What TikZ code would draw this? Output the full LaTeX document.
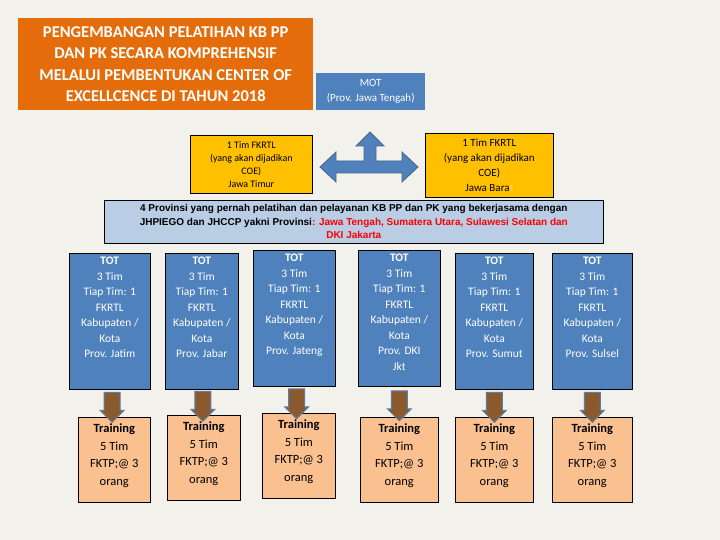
\documentclass[tikz,border=0pt]{standalone}
\usepackage{fontspec}
\setmainfont{Carlito}
\newfontfamily\arialfont{Liberation Sans}
\usetikzlibrary{shapes.arrows}
\definecolor{titleorange}{HTML}{E46C0A}
\definecolor{totblue}{HTML}{4F81BD}
\definecolor{coeyellow}{HTML}{FFC000}
\definecolor{infoblue}{HTML}{B9CDE5}
\definecolor{trainpeach}{HTML}{FAC090}
\definecolor{arrowbrown}{HTML}{8A5A2E}
\definecolor{arrowedge}{HTML}{5A7FA8}
\definecolor{bgpaper}{HTML}{F3F1EC}
\tikzset{
  box/.style={draw=black,line width=0.6pt,inner sep=2pt,align=center,anchor=north west},
  totbox/.style={box,fill=totblue,minimum width=#1,minimum height=136pt},
  trainbox/.style={box,fill=trainpeach,minimum width=#1,minimum height=85pt},
  toptext/.style={anchor=north,align=center,inner sep=0pt,yshift=-4pt},
  downarrow/.style={single arrow,draw=arrowedge,fill=arrowbrown,line width=1pt,
    shape border rotate=270,minimum width=24pt,minimum height=30pt,single arrow head extend=1pt,inner sep=1.5pt},
}
\begin{document}
\begin{tikzpicture}[x=1pt,y=-1pt]
  \fill[bgpaper] (0,0) rectangle (720,540);
  \useasboundingbox (0,0) rectangle (720,540);
  % title and MOT
  \node[fill=titleorange,text=white,anchor=north west,minimum width=295pt,minimum height=92pt,
    align=center,font=\bfseries\fontsize{16.5}{21.5}\selectfont] (title) at (18,18)
    {PENGEMBANGAN PELATIHAN KB PP\\DAN PK SECARA KOMPREHENSIF\\MELALUI PEMBENTUKAN CENTER OF\\EXCELLCENCE DI TAHUN 2018};
  \node[fill=totblue,text=white,anchor=north west,minimum width=109pt,minimum height=37pt,
    align=center,font=\fontsize{11}{15}\selectfont] (mot) at (316,73) {MOT\\(Prov. Jawa Tengah)};
  % the two COE teams
  \node[box,fill=coeyellow,minimum width=122pt,minimum height=58pt,font=\fontsize{10}{13}\selectfont] (coekiri) at (190,135)
    {1 Tim FKRTL\\(yang akan dijadikan\\COE)\\Jawa Timur};
  \node[box,fill=coeyellow,minimum width=128pt,minimum height=64pt,font=\fontsize{11}{15}\selectfont] (coekanan) at (425,133)
    {1 Tim FKRTL\\(yang akan dijadikan\\COE)\\Jawa Bara\textcolor{coeyellow!60!white}{t}};
  % three-way arrow
  \draw[draw=arrowedge!80!black,fill=totblue,line width=0.8pt]
    (320,167) -- (336,152) -- (336,161) -- (364,161) -- (364,146) -- (356,146) -- (370,132)
    -- (384,146) -- (376,146) -- (376,161) -- (402,161) -- (402,152) -- (418,167)
    -- (402,182) -- (402,173) -- (336,173) -- (336,182) -- cycle;
  % info box
  \node[box,fill=infoblue,minimum width=499pt,minimum height=43pt,
    font=\arialfont\bfseries\fontsize{10}{13.5}\selectfont] (info) at (104,200)
    {4 Provinsi yang pernah pelatihan dan pelayanan KB PP dan PK yang bekerjasama dengan\\
     JHPIEGO dan JHCCP yakni Provinsi\textcolor{red}{: Jawa Tengah, Sumatera Utara, Sulawesi Selatan dan}\\
     \textcolor{red}{DKI Jakarta}};
  % TOT boxes, arrows and trainings
  \foreach \i/\tx/\ty/\tw/\rx/\ry/\rw/\prov in {
      1/69/253/81/78/417/72/Jatim,
      2/165/253/73/167/415/73/Jabar,
      3/253/250/82/262/413/73/Jateng,
      4/358/250/82/360/417/78/DKI\\Jkt,
      5/455/253/78/455/417/78/Sumut,
      6/552/253/80/552/417/80/Sulsel} {
    \node[totbox=\tw pt,label={[toptext,text=white,font=\fontsize{11.5}{15.5}\selectfont]north:{\textbf{TOT}\\3 Tim\\Tiap Tim: 1\\FKRTL\\Kabupaten /\\Kota\\Prov. \prov}}] (tot\i) at (\tx,\ty) {};
    \node[trainbox=\rw pt,label={[toptext,yshift=-3pt,font=\fontsize{12.5}{17.5}\selectfont]north:{\textbf{Training}\\5 Tim\\FKTP;@ 3\\orang}}] (train\i) at (\rx,\ry) {};
    \path (tot\i.south) -- (train\i.north) node[downarrow,midway] (panah\i) {};
  }
\end{tikzpicture}
\end{document}
